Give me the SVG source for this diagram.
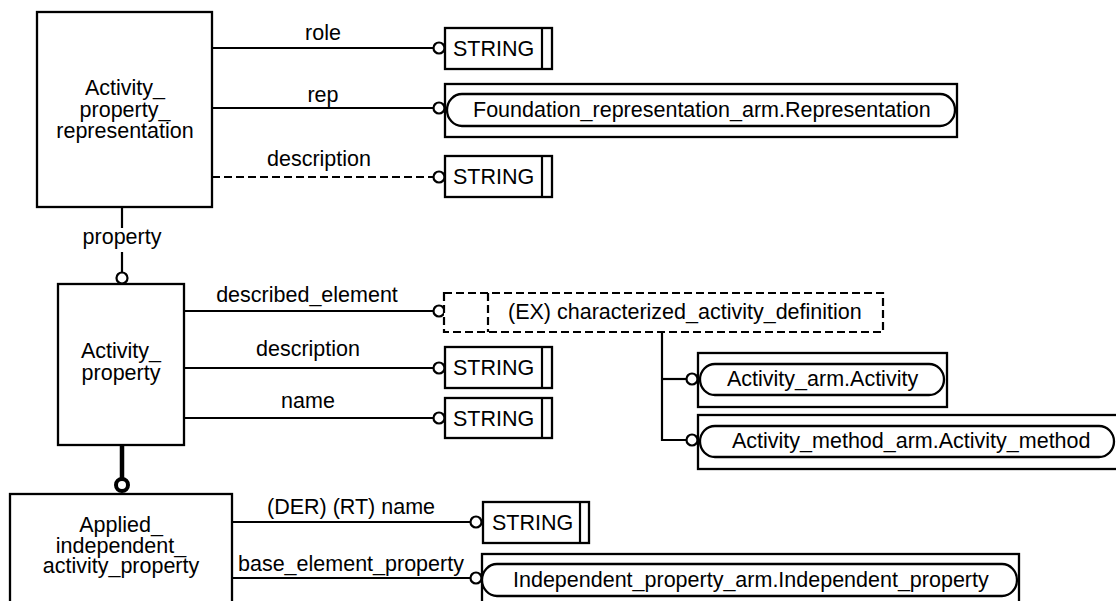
<svg xmlns="http://www.w3.org/2000/svg" width="1116" height="601" viewBox="0 0 1116 601">
<style>
text{font-family:"Liberation Sans",Arial,sans-serif;font-size:21.5px;fill:#000}
.c{text-anchor:middle}
.b{fill:#fff;stroke:#000;stroke-width:2.3}
.l{fill:none;stroke:#000;stroke-width:2.2}
.d{fill:none;stroke:#000;stroke-width:2.2;stroke-dasharray:8 4}
.o{fill:#fff;stroke:#000;stroke-width:2.2}
</style>
<rect width="1116" height="601" fill="#fff"/>
<g id="connectors">
<line class="l" x1="212" y1="48" x2="433" y2="48"/>
<circle class="o" cx="439" cy="48" r="5.5"/>
<text class="c" x="323" y="40">role</text>
<line class="l" x1="212" y1="108" x2="433" y2="108"/>
<circle class="o" cx="439" cy="108" r="5.5"/>
<text class="c" x="323" y="102">rep</text>
<line class="d" x1="212" y1="177" x2="433" y2="177"/>
<circle class="o" cx="439" cy="177" r="5.5"/>
<text class="c" x="319" y="166">description</text>
<line class="l" x1="122" y1="207" x2="122" y2="228"/>
<line class="l" x1="122" y1="252" x2="122" y2="272"/>
<circle class="o" cx="122" cy="278" r="5.5"/>
<text class="c" x="122" y="244">property</text>
<line class="l" x1="184" y1="311" x2="433" y2="311"/>
<circle class="o" cx="439" cy="311" r="5.5"/>
<text class="c" x="307" y="302">described_element</text>
<line class="l" x1="184" y1="368" x2="433" y2="368"/>
<circle class="o" cx="439" cy="368" r="5.5"/>
<text class="c" x="308" y="356">description</text>
<line class="l" x1="184" y1="418" x2="433" y2="418"/>
<circle class="o" cx="439" cy="418" r="5.5"/>
<text class="c" x="308" y="408">name</text>
<polyline class="l" points="662,332 662,440 686,440"/>
<line class="l" x1="662" y1="379" x2="686" y2="379"/>
<circle class="o" cx="692" cy="379" r="5.5"/>
<circle class="o" cx="692" cy="440" r="5.5"/>
<line x1="122" y1="445" x2="122" y2="479" stroke="#000" stroke-width="4.5"/>
<circle cx="122" cy="485" r="6" fill="#fff" stroke="#000" stroke-width="4"/>
<line class="l" x1="232" y1="522" x2="470" y2="522"/>
<circle class="o" cx="476" cy="522" r="5.5"/>
<text x="267" y="514">(DER) (RT) name</text>
<line class="l" x1="232" y1="578" x2="470" y2="578"/>
<circle class="o" cx="476" cy="578" r="5.5"/>
<text x="238" y="571">base_element_property</text>
</g>
<g id="activity_property_representation">
<rect class="b" x="37" y="12" width="175" height="195"/>
<text class="c" x="125" y="95">Activity_</text>
<text class="c" x="125" y="117">property_</text>
<text class="c" x="125" y="138">representation</text>
</g>
<g id="string_role">
<rect class="b" x="445" y="28" width="107" height="41"/>
<line class="l" x1="542" y1="28" x2="542" y2="69"/>
<text x="453" y="56">STRING</text>
</g>
<g id="foundation_representation">
<rect class="b" x="445" y="84" width="512" height="53"/>
<path class="b" d="M462,94 H940 A15 16 0 0 1 955,110 A15 16 0 0 1 940,126 H462 A15 16 0 0 1 447,110 A15 16 0 0 1 462,94 Z"/>
<text x="473" y="117">Foundation_representation_arm.Representation</text>
</g>
<g id="string_description">
<rect class="b" x="445" y="156" width="107" height="41"/>
<line class="l" x1="542" y1="156" x2="542" y2="197"/>
<text x="453" y="184">STRING</text>
</g>
<g id="activity_property">
<rect class="b" x="58" y="284" width="126" height="161"/>
<text class="c" x="121" y="358">Activity_</text>
<text class="c" x="121" y="380">property</text>
</g>
<g id="characterized_activity_definition">
<rect x="444" y="293" width="439" height="39" fill="#fff" stroke="#000" stroke-width="2.2" stroke-dasharray="8 4"/>
<line class="d" x1="488" y1="293" x2="488" y2="332"/>
<text x="508" y="319">(EX) characterized_activity_definition</text>
</g>
<g id="string_ap_description">
<rect class="b" x="445" y="347" width="107" height="41"/>
<line class="l" x1="542" y1="347" x2="542" y2="388"/>
<text x="453" y="375">STRING</text>
</g>
<g id="string_ap_name">
<rect class="b" x="445" y="398" width="107" height="40"/>
<line class="l" x1="542" y1="398" x2="542" y2="438"/>
<text x="453" y="426">STRING</text>
</g>
<g id="activity_arm_activity">
<rect class="b" x="698" y="353" width="249" height="54"/>
<path class="b" d="M715,364 H929 A15 15.5 0 0 1 944,379.5 A15 15.5 0 0 1 929,395 H715 A15 15.5 0 0 1 700,379.5 A15 15.5 0 0 1 715,364 Z"/>
<text x="727" y="386">Activity_arm.Activity</text>
</g>
<g id="activity_method_arm_activity_method">
<rect class="b" x="698" y="415" width="430" height="54"/>
<path class="b" d="M715,426 H1099 A15 15.5 0 0 1 1114,441.5 A15 15.5 0 0 1 1099,457 H715 A15 15.5 0 0 1 700,441.5 A15 15.5 0 0 1 715,426 Z"/>
<text x="732" y="448">Activity_method_arm.Activity_method</text>
</g>
<g id="applied_independent_activity_property">
<rect class="b" x="10" y="494" width="222" height="120"/>
<text class="c" x="121" y="532">Applied_</text>
<text class="c" x="121" y="553">independent_</text>
<text class="c" x="121" y="573">activity_property</text>
</g>
<g id="string_der_name">
<rect class="b" x="483" y="502" width="106" height="41"/>
<line class="l" x1="580" y1="502" x2="580" y2="543"/>
<text x="492" y="530">STRING</text>
</g>
<g id="independent_property">
<rect class="b" x="482" y="554" width="537" height="60"/>
<path class="b" d="M497,564 H1002 A15 16 0 0 1 1017,580 A15 16 0 0 1 1002,596 H497 A15 16 0 0 1 482,580 A15 16 0 0 1 497,564 Z"/>
<text x="513" y="587">Independent_property_arm.Independent_property</text>
</g>
</svg>
